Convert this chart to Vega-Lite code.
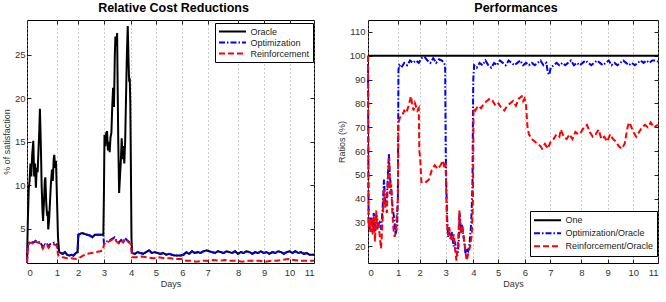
{
"$schema": "https://vega.github.io/schema/vega-lite/v6.json",
"padding": {"left": 1, "top": 1, "right": 5, "bottom": 5},
"config": {
  "font": "Liberation Sans",
  "view": {"stroke": "black", "strokeWidth": 1},
  "axis": {"labelFont": "Liberation Sans", "labelFontSize": 9.5, "labelColor": "#333", "titleFont": "Liberation Sans", "titleFontSize": 9, "titleFontWeight": "normal", "titleColor": "#333", "domain": false, "ticks": true, "tickSize": -4, "tickColor": "#222", "grid": false},
  "title": {"font": "Liberation Sans", "fontSize": 12.5, "fontWeight": "bold", "color": "black", "offset": 5},
  "legend": {"title": null, "orient": "none", "symbolType": "stroke", "symbolSize": 729, "symbolStrokeWidth": 2, "labelFont": "Liberation Sans", "labelFontSize": 9, "labelColor": "#222", "labelOffset": 3.5, "strokeColor": "black", "fillColor": "white", "padding": 3, "rowPadding": 0},
  "line": {"strokeWidth": 2, "clip": true}
},
"datasets": {
"L": [
{"s":"Oracle","t":0,"v":1.1},{"s":"Oracle","t":3,"v":6},{"s":"Oracle","t":6,"v":9.5},{"s":"Oracle","t":9,"v":10.5},{"s":"Oracle","t":12,"v":12.5},{"s":"Oracle","t":15,"v":11},{"s":"Oracle","t":18,"v":13.5},{"s":"Oracle","t":22,"v":15.1},{"s":"Oracle","t":25,"v":11},{"s":"Oracle","t":28,"v":12.5},{"s":"Oracle","t":31,"v":9.7},{"s":"Oracle","t":34,"v":12},{"s":"Oracle","t":37,"v":11.5},{"s":"Oracle","t":40,"v":14},{"s":"Oracle","t":43,"v":16.5},{"s":"Oracle","t":45,"v":18.8},{"s":"Oracle","t":48,"v":15},{"s":"Oracle","t":51,"v":10},{"s":"Oracle","t":54,"v":7},{"s":"Oracle","t":56,"v":5.9},{"s":"Oracle","t":59,"v":8},{"s":"Oracle","t":62,"v":10.5},{"s":"Oracle","t":64,"v":10.9},{"s":"Oracle","t":67,"v":8},{"s":"Oracle","t":70,"v":6.5},{"s":"Oracle","t":72,"v":7},{"s":"Oracle","t":74,"v":4.9},{"s":"Oracle","t":77,"v":6},{"s":"Oracle","t":80,"v":8},{"s":"Oracle","t":83,"v":10},{"s":"Oracle","t":87,"v":11.8},{"s":"Oracle","t":90,"v":10.5},{"s":"Oracle","t":93,"v":13},{"s":"Oracle","t":95,"v":13.5},{"s":"Oracle","t":98,"v":12},{"s":"Oracle","t":101,"v":12.8},{"s":"Oracle","t":104,"v":9},{"s":"Oracle","t":108,"v":4},{"s":"Oracle","t":112,"v":2.3},{"s":"Oracle","t":118,"v":2.2},{"s":"Oracle","t":125,"v":2.1},{"s":"Oracle","t":132,"v":2.3},{"s":"Oracle","t":140,"v":2.0},{"s":"Oracle","t":148,"v":1.9},{"s":"Oracle","t":155,"v":2.0},{"s":"Oracle","t":162,"v":1.9},{"s":"Oracle","t":170,"v":2.2},{"s":"Oracle","t":176,"v":2.3},{"s":"Oracle","t":179,"v":4.3},{"s":"Oracle","t":185,"v":4.4},{"s":"Oracle","t":192,"v":4.5},{"s":"Oracle","t":200,"v":4.4},{"s":"Oracle","t":210,"v":4.3},{"s":"Oracle","t":220,"v":4.2},{"s":"Oracle","t":228,"v":4.0},{"s":"Oracle","t":236,"v":4.3},{"s":"Oracle","t":245,"v":4.3},{"s":"Oracle","t":255,"v":4.3},{"s":"Oracle","t":266,"v":4.3},{"s":"Oracle","t":268,"v":9},{"s":"Oracle","t":270,"v":15.8},{"s":"Oracle","t":273,"v":14.5},{"s":"Oracle","t":276,"v":16},{"s":"Oracle","t":279,"v":16.2},{"s":"Oracle","t":282,"v":14},{"s":"Oracle","t":285,"v":15},{"s":"Oracle","t":288,"v":13.8},{"s":"Oracle","t":291,"v":15.5},{"s":"Oracle","t":294,"v":16},{"s":"Oracle","t":297,"v":19},{"s":"Oracle","t":300,"v":21.2},{"s":"Oracle","t":303,"v":19},{"s":"Oracle","t":306,"v":25},{"s":"Oracle","t":308,"v":27.1},{"s":"Oracle","t":311,"v":26},{"s":"Oracle","t":314,"v":27.5},{"s":"Oracle","t":316,"v":21},{"s":"Oracle","t":318,"v":15},{"s":"Oracle","t":321,"v":9.1},{"s":"Oracle","t":324,"v":11},{"s":"Oracle","t":327,"v":12.8},{"s":"Oracle","t":330,"v":15.4},{"s":"Oracle","t":333,"v":13},{"s":"Oracle","t":336,"v":14.5},{"s":"Oracle","t":339,"v":12.5},{"s":"Oracle","t":342,"v":15},{"s":"Oracle","t":345,"v":20},{"s":"Oracle","t":348,"v":25},{"s":"Oracle","t":351,"v":28.3},{"s":"Oracle","t":354,"v":24},{"s":"Oracle","t":356,"v":21.9},{"s":"Oracle","t":358,"v":22.3},{"s":"Oracle","t":360,"v":19.3},{"s":"Oracle","t":362,"v":12},{"s":"Oracle","t":364,"v":4},{"s":"Oracle","t":366,"v":2.2},
{"s":"Oracle","t":375,"v":2.1},{"s":"Oracle","t":385,"v":2.3},{"s":"Oracle","t":395,"v":2.2},{"s":"Oracle","t":405,"v":2.1},{"s":"Oracle","t":415,"v":2.3},{"s":"Oracle","t":425,"v":2.5},{"s":"Oracle","t":435,"v":2.2},{"s":"Oracle","t":445,"v":2.3},{"s":"Oracle","t":455,"v":2.2},{"s":"Oracle","t":465,"v":2.1},{"s":"Oracle","t":475,"v":2.2},{"s":"Oracle","t":485,"v":2.0},{"s":"Oracle","t":495,"v":2.1},{"s":"Oracle","t":505,"v":2.0},{"s":"Oracle","t":515,"v":1.9},{"s":"Oracle","t":525,"v":1.9},{"s":"Oracle","t":535,"v":1.9},{"s":"Oracle","t":545,"v":2.0},{"s":"Oracle","t":555,"v":2.3},{"s":"Oracle","t":565,"v":2.1},{"s":"Oracle","t":575,"v":2.4},{"s":"Oracle","t":585,"v":2.2},{"s":"Oracle","t":595,"v":2.3},{"s":"Oracle","t":605,"v":2.2},{"s":"Oracle","t":615,"v":2.4},{"s":"Oracle","t":625,"v":2.5},{"s":"Oracle","t":635,"v":2.4},{"s":"Oracle","t":645,"v":2.3},{"s":"Oracle","t":655,"v":2.2},{"s":"Oracle","t":665,"v":2.4},{"s":"Oracle","t":675,"v":2.3},{"s":"Oracle","t":685,"v":2.2},{"s":"Oracle","t":695,"v":2.4},{"s":"Oracle","t":705,"v":2.3},{"s":"Oracle","t":715,"v":2.2},{"s":"Oracle","t":725,"v":2.4},{"s":"Oracle","t":735,"v":2.1},{"s":"Oracle","t":745,"v":2.3},{"s":"Oracle","t":755,"v":2.2},{"s":"Oracle","t":765,"v":2.4},{"s":"Oracle","t":775,"v":2.3},{"s":"Oracle","t":785,"v":2.1},{"s":"Oracle","t":795,"v":2.3},{"s":"Oracle","t":805,"v":2.2},{"s":"Oracle","t":815,"v":2.4},{"s":"Oracle","t":825,"v":2.2},{"s":"Oracle","t":835,"v":2.3},{"s":"Oracle","t":845,"v":2.1},{"s":"Oracle","t":855,"v":2.3},{"s":"Oracle","t":865,"v":2.2},{"s":"Oracle","t":875,"v":2.4},{"s":"Oracle","t":885,"v":2.3},{"s":"Oracle","t":895,"v":2.1},{"s":"Oracle","t":905,"v":2.3},{"s":"Oracle","t":915,"v":2.4},{"s":"Oracle","t":925,"v":2.2},{"s":"Oracle","t":935,"v":2.4},{"s":"Oracle","t":945,"v":2.2},{"s":"Oracle","t":955,"v":2.3},{"s":"Oracle","t":965,"v":2.1},{"s":"Oracle","t":975,"v":2.2},{"s":"Oracle","t":985,"v":2.0},{"s":"Oracle","t":1000,"v":2.0},
{"s":"Optimization","t":0,"v":1.1},{"s":"Optimization","t":3,"v":3.0},{"s":"Optimization","t":8,"v":3.4},{"s":"Optimization","t":15,"v":3.5},{"s":"Optimization","t":22,"v":3.4},{"s":"Optimization","t":30,"v":3.6},{"s":"Optimization","t":38,"v":3.4},{"s":"Optimization","t":45,"v":3.5},{"s":"Optimization","t":50,"v":3.2},{"s":"Optimization","t":55,"v":2.9},{"s":"Optimization","t":60,"v":3.3},{"s":"Optimization","t":65,"v":3.1},{"s":"Optimization","t":70,"v":3.2},{"s":"Optimization","t":75,"v":3.0},{"s":"Optimization","t":80,"v":3.2},{"s":"Optimization","t":88,"v":3.3},{"s":"Optimization","t":95,"v":3.4},{"s":"Optimization","t":100,"v":3.3},{"s":"Optimization","t":104,"v":3.2},{"s":"Optimization","t":108,"v":2.5},{"s":"Optimization","t":112,"v":2.3},{"s":"Optimization","t":118,"v":2.2},{"s":"Optimization","t":125,"v":2.1},{"s":"Optimization","t":132,"v":2.3},{"s":"Optimization","t":140,"v":2.0},{"s":"Optimization","t":148,"v":1.9},{"s":"Optimization","t":155,"v":2.0},{"s":"Optimization","t":162,"v":1.9},{"s":"Optimization","t":170,"v":2.2},{"s":"Optimization","t":176,"v":2.3},{"s":"Optimization","t":179,"v":4.3},{"s":"Optimization","t":185,"v":4.4},{"s":"Optimization","t":192,"v":4.5},{"s":"Optimization","t":200,"v":4.4},{"s":"Optimization","t":210,"v":4.3},{"s":"Optimization","t":220,"v":4.2},{"s":"Optimization","t":228,"v":4.0},{"s":"Optimization","t":236,"v":4.3},{"s":"Optimization","t":245,"v":4.3},{"s":"Optimization","t":255,"v":4.3},{"s":"Optimization","t":266,"v":4.3},{"s":"Optimization","t":268,"v":3.3},{"s":"Optimization","t":275,"v":3.5},{"s":"Optimization","t":285,"v":3.6},{"s":"Optimization","t":295,"v":3.8},{"s":"Optimization","t":305,"v":4.0},{"s":"Optimization","t":312,"v":3.6},{"s":"Optimization","t":320,"v":3.4},{"s":"Optimization","t":328,"v":3.7},{"s":"Optimization","t":335,"v":3.5},{"s":"Optimization","t":342,"v":3.9},{"s":"Optimization","t":348,"v":3.7},{"s":"Optimization","t":355,"v":3.5},{"s":"Optimization","t":362,"v":3.3},{"s":"Optimization","t":366,"v":2.2},
{"s":"Optimization","t":375,"v":2.1},{"s":"Optimization","t":385,"v":2.3},{"s":"Optimization","t":395,"v":2.2},{"s":"Optimization","t":405,"v":2.1},{"s":"Optimization","t":415,"v":2.3},{"s":"Optimization","t":425,"v":2.5},{"s":"Optimization","t":435,"v":2.2},{"s":"Optimization","t":445,"v":2.3},{"s":"Optimization","t":455,"v":2.2},{"s":"Optimization","t":465,"v":2.1},{"s":"Optimization","t":475,"v":2.2},{"s":"Optimization","t":485,"v":2.0},{"s":"Optimization","t":495,"v":2.1},{"s":"Optimization","t":505,"v":2.0},{"s":"Optimization","t":515,"v":1.9},{"s":"Optimization","t":525,"v":1.9},{"s":"Optimization","t":535,"v":1.9},{"s":"Optimization","t":545,"v":2.0},{"s":"Optimization","t":555,"v":2.3},{"s":"Optimization","t":565,"v":2.1},{"s":"Optimization","t":575,"v":2.4},{"s":"Optimization","t":585,"v":2.2},{"s":"Optimization","t":595,"v":2.3},{"s":"Optimization","t":605,"v":2.2},{"s":"Optimization","t":615,"v":2.4},{"s":"Optimization","t":625,"v":2.5},{"s":"Optimization","t":635,"v":2.4},{"s":"Optimization","t":645,"v":2.3},{"s":"Optimization","t":655,"v":2.2},{"s":"Optimization","t":665,"v":2.4},{"s":"Optimization","t":675,"v":2.3},{"s":"Optimization","t":685,"v":2.2},{"s":"Optimization","t":695,"v":2.4},{"s":"Optimization","t":705,"v":2.3},{"s":"Optimization","t":715,"v":2.2},{"s":"Optimization","t":725,"v":2.4},{"s":"Optimization","t":735,"v":2.1},{"s":"Optimization","t":745,"v":2.3},{"s":"Optimization","t":755,"v":2.2},{"s":"Optimization","t":765,"v":2.4},{"s":"Optimization","t":775,"v":2.3},{"s":"Optimization","t":785,"v":2.1},{"s":"Optimization","t":795,"v":2.3},{"s":"Optimization","t":805,"v":2.2},{"s":"Optimization","t":815,"v":2.4},{"s":"Optimization","t":825,"v":2.2},{"s":"Optimization","t":835,"v":2.3},{"s":"Optimization","t":845,"v":2.1},{"s":"Optimization","t":855,"v":2.3},{"s":"Optimization","t":865,"v":2.2},{"s":"Optimization","t":875,"v":2.4},{"s":"Optimization","t":885,"v":2.3},{"s":"Optimization","t":895,"v":2.1},{"s":"Optimization","t":905,"v":2.3},{"s":"Optimization","t":915,"v":2.4},{"s":"Optimization","t":925,"v":2.2},{"s":"Optimization","t":935,"v":2.4},{"s":"Optimization","t":945,"v":2.2},{"s":"Optimization","t":955,"v":2.3},{"s":"Optimization","t":965,"v":2.1},{"s":"Optimization","t":975,"v":2.2},{"s":"Optimization","t":985,"v":2.0},{"s":"Optimization","t":1000,"v":2.0},
{"s":"Reinforcement","t":0,"v":1.1},{"s":"Reinforcement","t":3,"v":3.0},{"s":"Reinforcement","t":8,"v":3.3},{"s":"Reinforcement","t":15,"v":3.4},{"s":"Reinforcement","t":22,"v":3.2},{"s":"Reinforcement","t":30,"v":3.5},{"s":"Reinforcement","t":38,"v":3.4},{"s":"Reinforcement","t":45,"v":3.3},{"s":"Reinforcement","t":50,"v":3.0},{"s":"Reinforcement","t":55,"v":2.7},{"s":"Reinforcement","t":60,"v":3.0},{"s":"Reinforcement","t":65,"v":2.9},{"s":"Reinforcement","t":70,"v":3.1},{"s":"Reinforcement","t":75,"v":2.8},{"s":"Reinforcement","t":80,"v":3.0},{"s":"Reinforcement","t":88,"v":3.1},{"s":"Reinforcement","t":95,"v":3.2},{"s":"Reinforcement","t":100,"v":3.1},{"s":"Reinforcement","t":104,"v":3.0},{"s":"Reinforcement","t":108,"v":2.0},{"s":"Reinforcement","t":112,"v":1.8},{"s":"Reinforcement","t":125,"v":1.7},{"s":"Reinforcement","t":140,"v":1.6},{"s":"Reinforcement","t":155,"v":1.6},{"s":"Reinforcement","t":170,"v":1.5},{"s":"Reinforcement","t":180,"v":1.6},{"s":"Reinforcement","t":195,"v":1.9},{"s":"Reinforcement","t":210,"v":2.1},{"s":"Reinforcement","t":225,"v":2.2},{"s":"Reinforcement","t":240,"v":2.3},{"s":"Reinforcement","t":255,"v":2.4},{"s":"Reinforcement","t":265,"v":2.5},{"s":"Reinforcement","t":268,"v":3.2},{"s":"Reinforcement","t":275,"v":3.4},{"s":"Reinforcement","t":285,"v":3.5},{"s":"Reinforcement","t":295,"v":3.7},{"s":"Reinforcement","t":305,"v":3.9},{"s":"Reinforcement","t":312,"v":3.5},{"s":"Reinforcement","t":320,"v":3.3},{"s":"Reinforcement","t":328,"v":3.6},{"s":"Reinforcement","t":335,"v":3.4},{"s":"Reinforcement","t":342,"v":3.8},{"s":"Reinforcement","t":348,"v":3.6},{"s":"Reinforcement","t":355,"v":3.4},{"s":"Reinforcement","t":362,"v":3.2},{"s":"Reinforcement","t":366,"v":1.7},{"s":"Reinforcement","t":380,"v":1.7},{"s":"Reinforcement","t":400,"v":1.8},{"s":"Reinforcement","t":420,"v":1.7},{"s":"Reinforcement","t":440,"v":1.6},{"s":"Reinforcement","t":460,"v":1.7},{"s":"Reinforcement","t":480,"v":1.6},{"s":"Reinforcement","t":500,"v":1.6},{"s":"Reinforcement","t":520,"v":1.5},{"s":"Reinforcement","t":540,"v":1.5},{"s":"Reinforcement","t":555,"v":1.3},{"s":"Reinforcement","t":570,"v":1.3},{"s":"Reinforcement","t":590,"v":1.2},{"s":"Reinforcement","t":610,"v":1.3},{"s":"Reinforcement","t":630,"v":1.3},{"s":"Reinforcement","t":650,"v":1.4},{"s":"Reinforcement","t":670,"v":1.3},{"s":"Reinforcement","t":690,"v":1.4},{"s":"Reinforcement","t":710,"v":1.3},{"s":"Reinforcement","t":730,"v":1.3},{"s":"Reinforcement","t":750,"v":1.2},{"s":"Reinforcement","t":770,"v":1.3},{"s":"Reinforcement","t":790,"v":1.3},{"s":"Reinforcement","t":810,"v":1.3},{"s":"Reinforcement","t":830,"v":1.2},{"s":"Reinforcement","t":850,"v":1.3},{"s":"Reinforcement","t":870,"v":1.3},{"s":"Reinforcement","t":890,"v":1.4},{"s":"Reinforcement","t":910,"v":1.5},{"s":"Reinforcement","t":930,"v":1.4},{"s":"Reinforcement","t":950,"v":1.3},{"s":"Reinforcement","t":970,"v":1.3},{"s":"Reinforcement","t":1000,"v":1.3}
],
"R": [
{"s":"One","t":0,"v":100},{"s":"One","t":1000,"v":100},
{"s":"Optimization/Oracle","t":0,"v":100},{"s":"Optimization/Oracle","t":2,"v":30},{"s":"Optimization/Oracle","t":5,"v":27},{"s":"Optimization/Oracle","t":10,"v":32},{"s":"Optimization/Oracle","t":15,"v":28},{"s":"Optimization/Oracle","t":20,"v":34},{"s":"Optimization/Oracle","t":25,"v":26},{"s":"Optimization/Oracle","t":30,"v":33},{"s":"Optimization/Oracle","t":35,"v":29},{"s":"Optimization/Oracle","t":40,"v":30},{"s":"Optimization/Oracle","t":45,"v":27},{"s":"Optimization/Oracle","t":50,"v":35},{"s":"Optimization/Oracle","t":55,"v":48},{"s":"Optimization/Oracle","t":60,"v":38},{"s":"Optimization/Oracle","t":65,"v":40},{"s":"Optimization/Oracle","t":72,"v":59},{"s":"Optimization/Oracle","t":75,"v":50},{"s":"Optimization/Oracle","t":80,"v":44},{"s":"Optimization/Oracle","t":85,"v":36},{"s":"Optimization/Oracle","t":90,"v":32},{"s":"Optimization/Oracle","t":95,"v":25},{"s":"Optimization/Oracle","t":100,"v":28},{"s":"Optimization/Oracle","t":103,"v":40},{"s":"Optimization/Oracle","t":105,"v":94},{"s":"Optimization/Oracle","t":108,"v":96},{"s":"Optimization/Oracle","t":115,"v":95},{"s":"Optimization/Oracle","t":125,"v":97},{"s":"Optimization/Oracle","t":135,"v":96},{"s":"Optimization/Oracle","t":145,"v":98},{"s":"Optimization/Oracle","t":155,"v":97},{"s":"Optimization/Oracle","t":165,"v":98},{"s":"Optimization/Oracle","t":175,"v":97},{"s":"Optimization/Oracle","t":185,"v":99},{"s":"Optimization/Oracle","t":195,"v":99.5},{"s":"Optimization/Oracle","t":205,"v":98},{"s":"Optimization/Oracle","t":215,"v":97},{"s":"Optimization/Oracle","t":225,"v":99},{"s":"Optimization/Oracle","t":235,"v":97},{"s":"Optimization/Oracle","t":245,"v":98.5},{"s":"Optimization/Oracle","t":255,"v":98},{"s":"Optimization/Oracle","t":262,"v":97},{"s":"Optimization/Oracle","t":266,"v":96},{"s":"Optimization/Oracle","t":268,"v":60},{"s":"Optimization/Oracle","t":270,"v":45},{"s":"Optimization/Oracle","t":273,"v":32},{"s":"Optimization/Oracle","t":276,"v":24},{"s":"Optimization/Oracle","t":280,"v":26},{"s":"Optimization/Oracle","t":285,"v":23},{"s":"Optimization/Oracle","t":290,"v":26},{"s":"Optimization/Oracle","t":295,"v":20},{"s":"Optimization/Oracle","t":300,"v":22},{"s":"Optimization/Oracle","t":304,"v":18},{"s":"Optimization/Oracle","t":308,"v":16},{"s":"Optimization/Oracle","t":312,"v":20},{"s":"Optimization/Oracle","t":316,"v":34},{"s":"Optimization/Oracle","t":320,"v":27},{"s":"Optimization/Oracle","t":324,"v":29},{"s":"Optimization/Oracle","t":328,"v":25},{"s":"Optimization/Oracle","t":332,"v":22},{"s":"Optimization/Oracle","t":336,"v":17},{"s":"Optimization/Oracle","t":340,"v":19},{"s":"Optimization/Oracle","t":345,"v":18},{"s":"Optimization/Oracle","t":350,"v":21},{"s":"Optimization/Oracle","t":356,"v":30},{"s":"Optimization/Oracle","t":360,"v":45},{"s":"Optimization/Oracle","t":363,"v":90},{"s":"Optimization/Oracle","t":366,"v":96},{"s":"Optimization/Oracle","t":375,"v":95},{"s":"Optimization/Oracle","t":385,"v":97},{"s":"Optimization/Oracle","t":395,"v":96},{"s":"Optimization/Oracle","t":405,"v":98},{"s":"Optimization/Oracle","t":415,"v":96},{"s":"Optimization/Oracle","t":425,"v":95},{"s":"Optimization/Oracle","t":435,"v":97},{"s":"Optimization/Oracle","t":445,"v":96},{"s":"Optimization/Oracle","t":455,"v":98},{"s":"Optimization/Oracle","t":465,"v":97},{"s":"Optimization/Oracle","t":475,"v":96},{"s":"Optimization/Oracle","t":485,"v":98},{"s":"Optimization/Oracle","t":495,"v":97},{"s":"Optimization/Oracle","t":505,"v":96},{"s":"Optimization/Oracle","t":515,"v":97},{"s":"Optimization/Oracle","t":525,"v":98},{"s":"Optimization/Oracle","t":535,"v":96},{"s":"Optimization/Oracle","t":545,"v":97},{"s":"Optimization/Oracle","t":555,"v":96},{"s":"Optimization/Oracle","t":565,"v":97},{"s":"Optimization/Oracle","t":575,"v":96},{"s":"Optimization/Oracle","t":585,"v":97},{"s":"Optimization/Oracle","t":595,"v":98},{"s":"Optimization/Oracle","t":605,"v":96},{"s":"Optimization/Oracle","t":615,"v":97},{"s":"Optimization/Oracle","t":620,"v":93},{"s":"Optimization/Oracle","t":625,"v":92},{"s":"Optimization/Oracle","t":630,"v":95},{"s":"Optimization/Oracle","t":640,"v":96},{"s":"Optimization/Oracle","t":650,"v":97},{"s":"Optimization/Oracle","t":660,"v":96},{"s":"Optimization/Oracle","t":670,"v":97},{"s":"Optimization/Oracle","t":680,"v":96},{"s":"Optimization/Oracle","t":690,"v":97},{"s":"Optimization/Oracle","t":700,"v":98},{"s":"Optimization/Oracle","t":710,"v":96},{"s":"Optimization/Oracle","t":720,"v":97},{"s":"Optimization/Oracle","t":730,"v":96},{"s":"Optimization/Oracle","t":740,"v":97},{"s":"Optimization/Oracle","t":750,"v":98},{"s":"Optimization/Oracle","t":760,"v":97},{"s":"Optimization/Oracle","t":770,"v":96},{"s":"Optimization/Oracle","t":780,"v":97},{"s":"Optimization/Oracle","t":790,"v":98},{"s":"Optimization/Oracle","t":800,"v":97},{"s":"Optimization/Oracle","t":810,"v":96},{"s":"Optimization/Oracle","t":820,"v":97},{"s":"Optimization/Oracle","t":830,"v":98},{"s":"Optimization/Oracle","t":840,"v":96},{"s":"Optimization/Oracle","t":850,"v":97},{"s":"Optimization/Oracle","t":860,"v":96},{"s":"Optimization/Oracle","t":870,"v":97},{"s":"Optimization/Oracle","t":880,"v":98},{"s":"Optimization/Oracle","t":890,"v":97},{"s":"Optimization/Oracle","t":900,"v":96},{"s":"Optimization/Oracle","t":910,"v":97},{"s":"Optimization/Oracle","t":920,"v":96},{"s":"Optimization/Oracle","t":930,"v":97},{"s":"Optimization/Oracle","t":940,"v":98},{"s":"Optimization/Oracle","t":950,"v":97},{"s":"Optimization/Oracle","t":960,"v":98},{"s":"Optimization/Oracle","t":970,"v":97},{"s":"Optimization/Oracle","t":980,"v":98},{"s":"Optimization/Oracle","t":990,"v":98},{"s":"Optimization/Oracle","t":1000,"v":97.5},
{"s":"Reinforcement/Oracle","t":0,"v":100},{"s":"Reinforcement/Oracle","t":2,"v":28},{"s":"Reinforcement/Oracle","t":5,"v":31},{"s":"Reinforcement/Oracle","t":8,"v":26},{"s":"Reinforcement/Oracle","t":12,"v":32},{"s":"Reinforcement/Oracle","t":16,"v":25},{"s":"Reinforcement/Oracle","t":20,"v":33},{"s":"Reinforcement/Oracle","t":24,"v":22},{"s":"Reinforcement/Oracle","t":28,"v":35},{"s":"Reinforcement/Oracle","t":32,"v":27},{"s":"Reinforcement/Oracle","t":36,"v":30},{"s":"Reinforcement/Oracle","t":40,"v":25},{"s":"Reinforcement/Oracle","t":45,"v":19},{"s":"Reinforcement/Oracle","t":50,"v":30},{"s":"Reinforcement/Oracle","t":55,"v":44},{"s":"Reinforcement/Oracle","t":60,"v":36},{"s":"Reinforcement/Oracle","t":65,"v":34},{"s":"Reinforcement/Oracle","t":70,"v":52},{"s":"Reinforcement/Oracle","t":73,"v":57},{"s":"Reinforcement/Oracle","t":76,"v":42},{"s":"Reinforcement/Oracle","t":80,"v":46},{"s":"Reinforcement/Oracle","t":84,"v":34},{"s":"Reinforcement/Oracle","t":88,"v":27},{"s":"Reinforcement/Oracle","t":92,"v":24},{"s":"Reinforcement/Oracle","t":96,"v":26},{"s":"Reinforcement/Oracle","t":100,"v":34},{"s":"Reinforcement/Oracle","t":103,"v":40},{"s":"Reinforcement/Oracle","t":105,"v":72},{"s":"Reinforcement/Oracle","t":110,"v":74},{"s":"Reinforcement/Oracle","t":118,"v":75},{"s":"Reinforcement/Oracle","t":125,"v":77},{"s":"Reinforcement/Oracle","t":132,"v":76},{"s":"Reinforcement/Oracle","t":140,"v":79},{"s":"Reinforcement/Oracle","t":148,"v":83},{"s":"Reinforcement/Oracle","t":152,"v":80},{"s":"Reinforcement/Oracle","t":157,"v":77},{"s":"Reinforcement/Oracle","t":162,"v":80},{"s":"Reinforcement/Oracle","t":170,"v":77},{"s":"Reinforcement/Oracle","t":175,"v":78},{"s":"Reinforcement/Oracle","t":177,"v":60},{"s":"Reinforcement/Oracle","t":180,"v":57},{"s":"Reinforcement/Oracle","t":184,"v":47},{"s":"Reinforcement/Oracle","t":190,"v":47.5},{"s":"Reinforcement/Oracle","t":200,"v":47},{"s":"Reinforcement/Oracle","t":210,"v":48},{"s":"Reinforcement/Oracle","t":220,"v":52},{"s":"Reinforcement/Oracle","t":230,"v":54},{"s":"Reinforcement/Oracle","t":240,"v":52.5},{"s":"Reinforcement/Oracle","t":250,"v":54},{"s":"Reinforcement/Oracle","t":258,"v":56},{"s":"Reinforcement/Oracle","t":264,"v":53},{"s":"Reinforcement/Oracle","t":267,"v":55},{"s":"Reinforcement/Oracle","t":269,"v":48},{"s":"Reinforcement/Oracle","t":272,"v":30},{"s":"Reinforcement/Oracle","t":276,"v":24.6},{"s":"Reinforcement/Oracle","t":280,"v":28},{"s":"Reinforcement/Oracle","t":285,"v":24},{"s":"Reinforcement/Oracle","t":290,"v":22},{"s":"Reinforcement/Oracle","t":296,"v":25},{"s":"Reinforcement/Oracle","t":300,"v":19},{"s":"Reinforcement/Oracle","t":305,"v":14},{"s":"Reinforcement/Oracle","t":310,"v":20},{"s":"Reinforcement/Oracle","t":315,"v":35},{"s":"Reinforcement/Oracle","t":320,"v":25},{"s":"Reinforcement/Oracle","t":325,"v":29},{"s":"Reinforcement/Oracle","t":330,"v":24},{"s":"Reinforcement/Oracle","t":336,"v":18},{"s":"Reinforcement/Oracle","t":340,"v":14},{"s":"Reinforcement/Oracle","t":346,"v":17},{"s":"Reinforcement/Oracle","t":352,"v":20},{"s":"Reinforcement/Oracle","t":358,"v":25},{"s":"Reinforcement/Oracle","t":362,"v":40},{"s":"Reinforcement/Oracle","t":364,"v":78},{"s":"Reinforcement/Oracle","t":370,"v":77},{"s":"Reinforcement/Oracle","t":380,"v":79},{"s":"Reinforcement/Oracle","t":390,"v":78},{"s":"Reinforcement/Oracle","t":400,"v":80},{"s":"Reinforcement/Oracle","t":410,"v":81},{"s":"Reinforcement/Oracle","t":420,"v":82},{"s":"Reinforcement/Oracle","t":430,"v":81},{"s":"Reinforcement/Oracle","t":440,"v":79},{"s":"Reinforcement/Oracle","t":450,"v":80},{"s":"Reinforcement/Oracle","t":460,"v":78},{"s":"Reinforcement/Oracle","t":470,"v":77},{"s":"Reinforcement/Oracle","t":480,"v":79},{"s":"Reinforcement/Oracle","t":490,"v":80},{"s":"Reinforcement/Oracle","t":500,"v":81},{"s":"Reinforcement/Oracle","t":510,"v":79},{"s":"Reinforcement/Oracle","t":520,"v":82},{"s":"Reinforcement/Oracle","t":530,"v":83},{"s":"Reinforcement/Oracle","t":535,"v":81},{"s":"Reinforcement/Oracle","t":540,"v":82},{"s":"Reinforcement/Oracle","t":545,"v":79},{"s":"Reinforcement/Oracle","t":550,"v":70},{"s":"Reinforcement/Oracle","t":555,"v":67},{"s":"Reinforcement/Oracle","t":565,"v":65},{"s":"Reinforcement/Oracle","t":575,"v":64},{"s":"Reinforcement/Oracle","t":585,"v":63},{"s":"Reinforcement/Oracle","t":595,"v":62},{"s":"Reinforcement/Oracle","t":600,"v":61},{"s":"Reinforcement/Oracle","t":610,"v":63},{"s":"Reinforcement/Oracle","t":620,"v":61},{"s":"Reinforcement/Oracle","t":630,"v":64},{"s":"Reinforcement/Oracle","t":640,"v":65},{"s":"Reinforcement/Oracle","t":650,"v":67},{"s":"Reinforcement/Oracle","t":660,"v":66},{"s":"Reinforcement/Oracle","t":665,"v":69},{"s":"Reinforcement/Oracle","t":675,"v":66},{"s":"Reinforcement/Oracle","t":685,"v":65},{"s":"Reinforcement/Oracle","t":695,"v":67},{"s":"Reinforcement/Oracle","t":705,"v":65},{"s":"Reinforcement/Oracle","t":715,"v":68},{"s":"Reinforcement/Oracle","t":725,"v":67},{"s":"Reinforcement/Oracle","t":735,"v":68},{"s":"Reinforcement/Oracle","t":745,"v":70},{"s":"Reinforcement/Oracle","t":755,"v":71},{"s":"Reinforcement/Oracle","t":765,"v":68},{"s":"Reinforcement/Oracle","t":775,"v":66},{"s":"Reinforcement/Oracle","t":785,"v":67},{"s":"Reinforcement/Oracle","t":795,"v":69},{"s":"Reinforcement/Oracle","t":805,"v":65},{"s":"Reinforcement/Oracle","t":815,"v":66},{"s":"Reinforcement/Oracle","t":825,"v":64},{"s":"Reinforcement/Oracle","t":835,"v":67},{"s":"Reinforcement/Oracle","t":845,"v":65},{"s":"Reinforcement/Oracle","t":855,"v":64},{"s":"Reinforcement/Oracle","t":865,"v":62},{"s":"Reinforcement/Oracle","t":875,"v":61},{"s":"Reinforcement/Oracle","t":885,"v":63},{"s":"Reinforcement/Oracle","t":895,"v":70},{"s":"Reinforcement/Oracle","t":900,"v":72},{"s":"Reinforcement/Oracle","t":905,"v":71},{"s":"Reinforcement/Oracle","t":915,"v":68},{"s":"Reinforcement/Oracle","t":925,"v":66},{"s":"Reinforcement/Oracle","t":935,"v":68},{"s":"Reinforcement/Oracle","t":945,"v":70},{"s":"Reinforcement/Oracle","t":955,"v":71},{"s":"Reinforcement/Oracle","t":965,"v":70},{"s":"Reinforcement/Oracle","t":975,"v":72},{"s":"Reinforcement/Oracle","t":985,"v":70},{"s":"Reinforcement/Oracle","t":1000,"v":71}
]
},
"spacing": 17,
"hconcat": [
{
  "title": {"text": "Relative Cost Reductions", "dx": 3},
  "width": 287, "height": 243,
  "data": {"name": "L"},
  "encoding": {
    "color": {"field": "s", "type": "nominal", "scale": {"domain": ["Oracle","Optimization","Reinforcement"], "range": ["black","#0000ff","#ff0000"]},
      "legend": {"legendX": 188, "legendY": 3, "clipHeight": 11}},
    "strokeDash": {"field": "s", "type": "nominal", "scale": {"domain": ["Oracle","Optimization","Reinforcement"], "range": [[1,0],[6,2,1.5,2],[6,3]]},
      "legend": {"legendX": 188, "legendY": 3, "clipHeight": 11}}
  },
  "layer": [
    {"transform": [{"filter": "datum.s == 'Oracle'"}], "mark": {"type": "line"},
     "encoding": {
      "x": {"field": "t", "type": "quantitative", "scale": {"domain": [0, 1000], "nice": false, "zero": false},
        "axis": {"values": [0,104,178,268,363,449,541,629,736,826,915,1000], "labelExpr": "indexof([0,104,178,268,363,449,541,629,736,826,915,1000], datum.value)", "title": "Days", "grid": true, "gridDash": [1,3], "gridColor": "#999", "labelPadding": 8, "titlePadding": 3}},
      "y": {"field": "v", "type": "quantitative", "scale": {"domain": [1.05, 29], "nice": false, "zero": false},
        "axis": {"values": [5,10,15,20,25], "title": "% of satisfaction", "labelPadding": 6, "titlePadding": 3}}
     }},
    {"transform": [{"filter": "datum.s == 'Optimization'"}], "mark": {"type": "line"},
     "encoding": {
      "x": {"field": "t", "type": "quantitative", "scale": {"domain": [0, 1000], "nice": false, "zero": false},
        "axis": {"orient": "top", "values": [0,104,178,268,363,449,541,629,736,826,915,1000], "labels": false, "title": null, "grid": false}},
      "y": {"field": "v", "type": "quantitative", "scale": {"domain": [1.05, 29], "nice": false, "zero": false},
        "axis": {"orient": "right", "values": [5,10,15,20,25], "labels": false, "title": null}}
     }},
    {"transform": [{"filter": "datum.s == 'Reinforcement'"}], "mark": {"type": "line"},
     "encoding": {
      "x": {"field": "t", "type": "quantitative", "scale": {"domain": [0, 1000], "nice": false, "zero": false}, "axis": null},
      "y": {"field": "v", "type": "quantitative", "scale": {"domain": [1.05, 29], "nice": false, "zero": false}, "axis": null}
     }}
  ],
  "resolve": {"axis": {"x": "independent", "y": "independent"}}
},
{
  "title": {"text": "Performances", "dx": 3},
  "width": 290, "height": 243,
  "data": {"name": "R"},
  "encoding": {
    "color": {"field": "s", "type": "nominal", "scale": {"domain": ["One","Optimization/Oracle","Reinforcement/Oracle"], "range": ["black","#0000ff","#ff0000"]},
      "legend": {"legendX": 162, "legendY": 191, "clipHeight": 12.3}},
    "strokeDash": {"field": "s", "type": "nominal", "scale": {"domain": ["One","Optimization/Oracle","Reinforcement/Oracle"], "range": [[1,0],[6,2,1.5,2],[6,3]]},
      "legend": {"legendX": 162, "legendY": 191, "clipHeight": 12.3}}
  },
  "layer": [
    {"transform": [{"filter": "datum.s == 'One'"}], "mark": {"type": "line"},
     "encoding": {
      "x": {"field": "t", "type": "quantitative", "scale": {"domain": [0, 1000], "nice": false, "zero": false},
        "axis": {"values": [0,104,178,268,363,449,541,629,736,826,915,1000], "labelExpr": "indexof([0,104,178,268,363,449,541,629,736,826,915,1000], datum.value)", "title": "Days", "grid": true, "gridDash": [1,3], "gridColor": "#999", "labelPadding": 8, "titlePadding": 3}},
      "y": {"field": "v", "type": "quantitative", "scale": {"domain": [13, 115], "nice": false, "zero": false},
        "axis": {"values": [20,30,40,50,60,70,80,90,100,110], "title": "Ratios (%)", "labelPadding": 7, "titlePadding": 3}}
     }},
    {"transform": [{"filter": "datum.s == 'Optimization/Oracle'"}], "mark": {"type": "line"},
     "encoding": {
      "x": {"field": "t", "type": "quantitative", "scale": {"domain": [0, 1000], "nice": false, "zero": false},
        "axis": {"orient": "top", "values": [0,104,178,268,363,449,541,629,736,826,915,1000], "labels": false, "title": null, "grid": false}},
      "y": {"field": "v", "type": "quantitative", "scale": {"domain": [13, 115], "nice": false, "zero": false},
        "axis": {"orient": "right", "values": [20,30,40,50,60,70,80,90,100,110], "labels": false, "title": null}}
     }},
    {"transform": [{"filter": "datum.s == 'Reinforcement/Oracle'"}], "mark": {"type": "line"},
     "encoding": {
      "x": {"field": "t", "type": "quantitative", "scale": {"domain": [0, 1000], "nice": false, "zero": false}, "axis": null},
      "y": {"field": "v", "type": "quantitative", "scale": {"domain": [13, 115], "nice": false, "zero": false}, "axis": null}
     }}
  ],
  "resolve": {"axis": {"x": "independent", "y": "independent"}}
}
],
"resolve": {"scale": {"color": "independent", "strokeDash": "independent"}, "legend": {"color": "independent", "strokeDash": "independent"}}
}
